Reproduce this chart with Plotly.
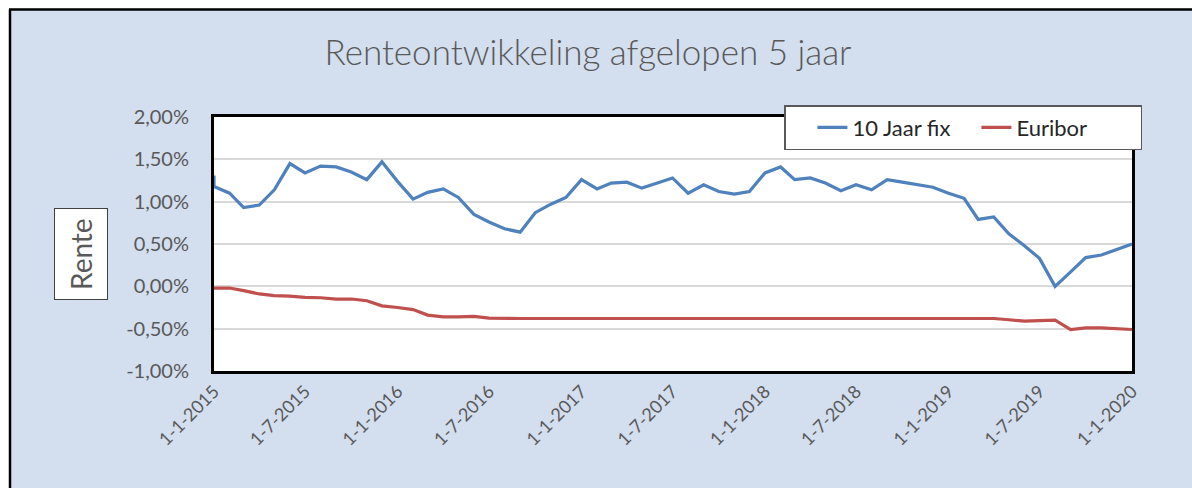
import plotly.graph_objects as go

# ---- data ----
dates = [
    "2015-01-01", "2015-02-01", "2015-03-01", "2015-04-01", "2015-05-01", "2015-06-01",
    "2015-07-01", "2015-08-01", "2015-09-01", "2015-10-01", "2015-11-01", "2015-12-01",
    "2016-01-01", "2016-02-01", "2016-03-01", "2016-04-01", "2016-05-01", "2016-06-01",
    "2016-07-01", "2016-08-01", "2016-09-01", "2016-10-01", "2016-11-01", "2016-12-01",
    "2017-01-01", "2017-02-01", "2017-03-01", "2017-04-01", "2017-05-01", "2017-06-01",
    "2017-07-01", "2017-08-01", "2017-09-01", "2017-10-01", "2017-11-01", "2017-12-01",
    "2018-01-01", "2018-02-01", "2018-03-01", "2018-04-01", "2018-05-01", "2018-06-01",
    "2018-07-01", "2018-08-01", "2018-09-01", "2018-10-01", "2018-11-01", "2018-12-01",
    "2019-01-01", "2019-02-01", "2019-03-01", "2019-04-01", "2019-05-01", "2019-06-01",
    "2019-07-01", "2019-08-01", "2019-09-01", "2019-10-01", "2019-11-01", "2019-12-01",
    "2020-01-01",
]

# 10 Jaar fix (in %), first date has two readings (vertical drop at start)
fix_dates = ["2015-01-01"] + dates
fix_values = [
    1.31, 1.18, 1.10, 0.93, 0.96, 1.14, 1.45, 1.34, 1.42, 1.41, 1.35, 1.26, 1.47,
    1.24, 1.03, 1.11, 1.15, 1.05, 0.85, 0.76, 0.68, 0.64, 0.87, 0.97, 1.05,
    1.26, 1.15, 1.22, 1.23, 1.16, 1.22, 1.28, 1.10, 1.20, 1.12, 1.09, 1.12,
    1.34, 1.41, 1.26, 1.28, 1.22, 1.13, 1.20, 1.14, 1.26, 1.23, 1.20, 1.17,
    1.10, 1.04, 0.79, 0.82, 0.62, 0.48, 0.33, 0.00, 0.17, 0.34, 0.37, 0.43,
    0.50,
]

# Euribor (in %)
euribor_values = [
    -0.02, -0.02, -0.05, -0.09, -0.11, -0.115, -0.13, -0.135, -0.15, -0.15, -0.17, -0.23,
    -0.25, -0.275, -0.34, -0.36, -0.36, -0.355, -0.375, -0.38, -0.38, -0.38, -0.38, -0.38,
    -0.38, -0.38, -0.38, -0.38, -0.38, -0.38, -0.38, -0.38, -0.38, -0.38, -0.38, -0.38,
    -0.38, -0.38, -0.38, -0.38, -0.38, -0.38, -0.38, -0.38, -0.38, -0.38, -0.38, -0.38,
    -0.38, -0.38, -0.38, -0.38, -0.395, -0.41, -0.405, -0.40, -0.51, -0.49, -0.49, -0.50,
    -0.51,
]

y_tickvals = [2.0, 1.5, 1.0, 0.5, 0.0, -0.5, -1.0]
y_ticktext = ["2,00%", "1,50%", "1,00%", "0,50%", "0,00%", "-0,50%", "-1,00%"]

x_tickvals = ["2015-01-01", "2015-07-01", "2016-01-01", "2016-07-01", "2017-01-01",
              "2017-07-01", "2018-01-01", "2018-07-01", "2019-01-01", "2019-07-01",
              "2020-01-01"]
x_ticktext = ["1-1-2015", "1-7-2015", "1-1-2016", "1-7-2016", "1-1-2017", "1-7-2017",
              "1-1-2018", "1-7-2018", "1-1-2019", "1-7-2019", "1-1-2020"]

# ---- layout geometry (page pixels; body margin is removed below) ----
W, H = 1192, 488
PL, PR, PT, PB = 214, 1132, 117, 371          # plot area in page pixels
L, R, T, B = PL, W - PR, PT, H - PB
PW, PH = PR - PL, PB - PT


def px(x):
    return (x - PL) / PW


def py(y):
    return (PB - y) / PH


FONT = "Lato, 'Open Sans', sans-serif"
GRAY = "#595959"
BG = "#D3DEEE"

fig = go.Figure()
fig.add_trace(go.Scatter(
    x=fix_dates, y=fix_values, mode="lines", name="10 Jaar fix",
    line=dict(color="#4F81BD", width=3.2),
))
fig.add_trace(go.Scatter(
    x=dates, y=euribor_values, mode="lines", name="Euribor",
    line=dict(color="#C0504D", width=3.2),
))

fig.update_layout(
    width=W, height=H,
    margin=dict(l=L, r=R, t=T, b=B, pad=0),
    paper_bgcolor=BG,
    plot_bgcolor="white",
    font=dict(family=FONT, color=GRAY),
    title=dict(
        text="Renteontwikkeling afgelopen 5 jaar",
        x=588 / W, xanchor="center", xref="container",
        y=1 - 53 / H, yanchor="middle", yref="container",
        font=dict(family=FONT, size=35, color=GRAY, weight=300),
    ),
    showlegend=True,
    legend=dict(
        orientation="h",
        x=px(1142), xanchor="right",
        y=py(105), yanchor="top",
        bgcolor="white",
        bordercolor="#595959", borderwidth=1.5,
        font=dict(family=FONT, size=22, color="#262626"),
        entrywidth=119, entrywidthmode="pixels",
        title=dict(text="\u00a0\u00a0\u00a0", font=dict(size=22)),
    ),
    xaxis=dict(
        type="date",
        range=["2015-01-01", "2020-01-01"],
        tickvals=x_tickvals, ticktext=x_ticktext,
        tickangle=-45,
        tickfont=dict(family=FONT, size=18, color=GRAY),
        showgrid=False,
        showline=True, linecolor="black", linewidth=3, mirror=True,
        ticks="", zeroline=False,
    ),
    yaxis=dict(
        range=[-1.0, 2.0],
        tickvals=y_tickvals, ticktext=y_ticktext,
        tickfont=dict(family=FONT, size=20, color=GRAY),
        showgrid=True, gridcolor="#D9D9D9", gridwidth=1.5,
        showline=True, linecolor="black", linewidth=3, mirror=True,
        ticks="", zeroline=False,
        ticklabelstandoff=18,
    ),
    shapes=[
        # white strips outside the chart frame (top and left)
        dict(type="rect", xref="paper", yref="paper", layer="above",
             x0=px(-20), x1=px(9), y0=py(520), y1=py(-20),
             fillcolor="white", line=dict(width=0)),
        dict(type="rect", xref="paper", yref="paper", layer="above",
             x0=px(-20), x1=px(1220), y0=py(8.5), y1=py(-20),
             fillcolor="white", line=dict(width=0)),
        # black frame of the chart area
        dict(type="line", xref="paper", yref="paper", layer="above",
             x0=px(10), x1=px(10), y0=py(9.5), y1=py(520),
             line=dict(color="black", width=2.5)),
        dict(type="line", xref="paper", yref="paper", layer="above",
             x0=px(9), x1=px(1220), y0=py(9.5), y1=py(9.5),
             line=dict(color="black", width=2.5)),
    ],
    annotations=[
        dict(text="Rente", xref="paper", yref="paper",
             x=px(81), y=py(254), xanchor="center", yanchor="middle",
             textangle=-90, showarrow=False,
             font=dict(family=FONT, size=28, color=GRAY),
             bgcolor="white", bordercolor="#404040", borderwidth=1,
             borderpad=9),
    ],
)

fig.write_html(
    "out.html",
    config={"displayModeBar": False},
    post_script="document.body.style.margin='0';document.body.style.overflow='hidden';",
)
